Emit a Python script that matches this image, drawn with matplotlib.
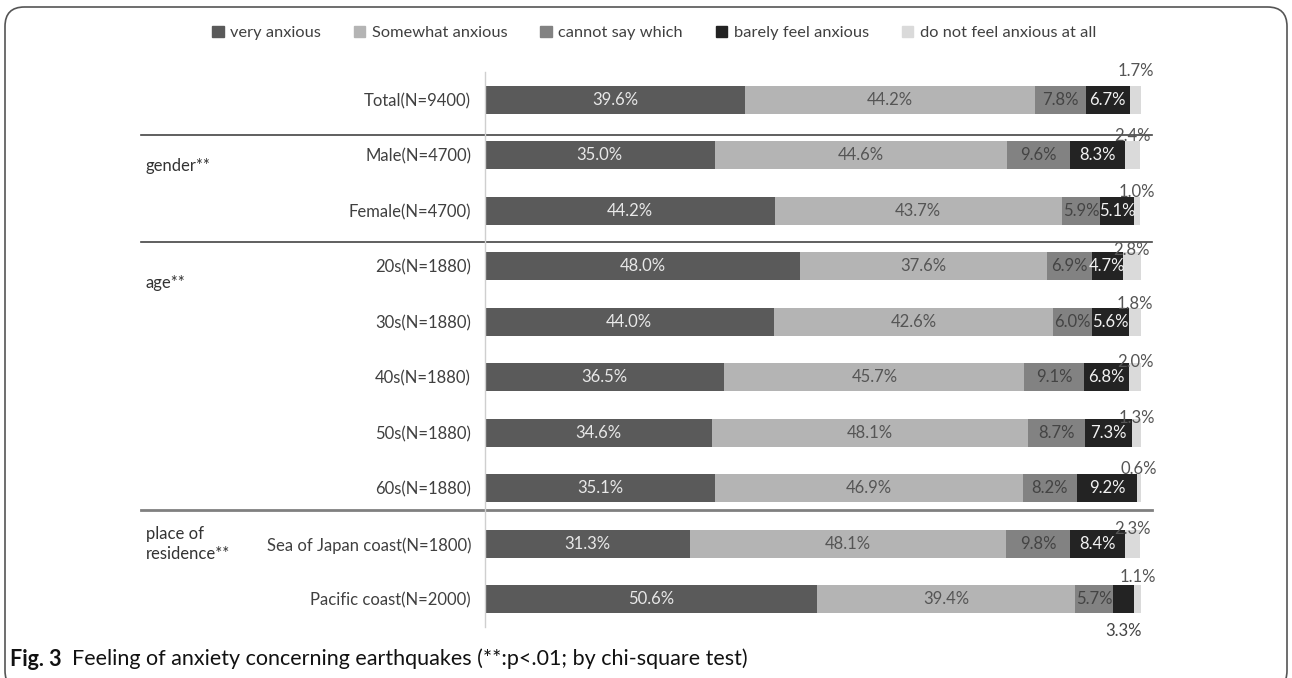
import matplotlib
matplotlib.use('Agg')
import matplotlib.pyplot as plt
from matplotlib.patches import Patch, FancyBboxPatch
import numpy as np

plt.rcParams['font.family'] = ['Lato', 'DejaVu Sans']

# 回答项目
answers = ['very anxious', 'Somewhat anxious', 'cannot say which',
           'barely feel anxious', 'do not feel anxious at all']
groups = ['Total(N=9400)', 'Male(N=4700)', 'Female(N=4700)',
          '20s(N=1880)', '30s(N=1880)', '40s(N=1880)', '50s(N=1880)', '60s(N=1880)',
          'Sea of Japan coast(N=1800)', 'Pacific coast(N=2000)']

very = [39.6, 35.0, 44.2, 48.0, 44.0, 36.5, 34.6, 35.1, 31.3, 50.6]
somewhat = [44.2, 44.6, 43.7, 37.6, 42.6, 45.7, 48.1, 46.9, 48.1, 39.4]
cannot_say = [7.8, 9.6, 5.9, 6.9, 6.0, 9.1, 8.7, 8.2, 9.8, 5.7]
barely = [6.7, 8.3, 5.1, 4.7, 5.6, 6.8, 7.3, 9.2, 8.4, 3.3]
not_at_all = [1.7, 2.4, 1.0, 2.8, 1.8, 2.0, 1.3, 0.6, 2.3, 1.1]

series = [very, somewhat, cannot_say, barely, not_at_all]
colors = ['#5a5a5a', '#b4b4b4', '#828282', '#232323', '#dadada']
txt_colors = ['#e8e8e8', '#555555', '#444444', '#f2f2f2', '#555555']

# 分组标题
group_titles = ['gender**', 'age**', 'place of\nresidence**']
group_rows = [1.2, 3.3, 8.0]
sep_rows = [0.63, 2.56, 7.40]

# 最后一项标签在条形上方的偏移(行单位)
top_offset = [0.27, 0.09, 0.09, 0.05, 0.07, 0.02, 0.02, 0.09, 0.02, 0.15]

W, H = 1292, 678
fig = plt.figure(figsize=(W / 100, H / 100), dpi=100)
ax = fig.add_axes([485 / W, 1 - 627 / H, 656 / W, 555 / H])

y = np.arange(len(groups))
left = np.zeros(len(groups))
for k, vals in enumerate(series):
    vals = np.array(vals)
    ax.barh(y, vals, left=left, height=0.5, color=colors[k], label=answers[k])
    for i in range(len(groups)):
        cx = left[i] + vals[i] / 2
        if k == 4:
            ax.text(cx, y[i] - 0.25 - top_offset[i], '%.1f%%' % vals[i], ha='center', va='center',
                    fontsize=12, color=txt_colors[k], clip_on=False)
        elif k == 3 and vals[i] < 4:
            ax.text(cx, y[i] + 0.58, '%.1f%%' % vals[i], ha='center', va='center',
                    fontsize=12, color='#444444', clip_on=False)
        else:
            ax.text(cx, y[i], '%.1f%%' % vals[i], ha='center', va='center',
                    fontsize=12, color=txt_colors[k])
    left += vals

ax.set_xlim(0, 100)
ax.set_ylim(len(groups) - 0.5, -0.5)
ax.set_yticks(y)
ax.set_yticklabels(groups, fontsize=12, color='#404040')
ax.tick_params(axis='y', length=0, pad=10)
ax.set_xticks([])
for s in ['top', 'right', 'bottom']:
    ax.spines[s].set_visible(False)
ax.spines['left'].set_color('#cfcfcf')
ax.spines['left'].set_linewidth(1)

# 分隔线
x0 = (141 - 485) / 6.56
x1 = (1152 - 485) / 6.56
for j, r in enumerate(sep_rows):
    if j < 2:
        ax.plot([x0, x1], [r, r], color='#444444', lw=1.2, clip_on=False)
    else:
        ax.plot([x0, x1], [r, r], color='#808080', lw=2, clip_on=False)

for t, r in zip(group_titles, group_rows):
    ax.text((146 - 485) / 6.56, r, t, ha='left', va='center', fontsize=12,
            color='#333333', clip_on=False, linespacing=1.3)

handles = [Patch(color=c) for c in colors]
fig.legend(handles, answers, loc='center', bbox_to_anchor=(654 / W, 1 - 33 / H), ncol=5,
           frameon=False, fontsize=11.8, handlelength=0.7, handleheight=0.7,
           handletextpad=0.4, columnspacing=2.0, labelcolor='#404040')

# 图注
fig.text(10 / W, 1 - 659 / H, 'Fig. 3', fontsize=15.5, fontweight='bold', va='center', color='#111111')
fig.text(72 / W, 1 - 659 / H, 'Feeling of anxiety concerning earthquakes (**:p<.01; by chi-square test)',
         fontsize=15.5, va='center', color='#111111')

# 外框
box = FancyBboxPatch((5 / W, 1 - 690 / H), 1282 / W, 683 / H,
                     boxstyle='round,pad=0,rounding_size=0.015', transform=fig.transFigure,
                     fill=False, edgecolor='#555555', lw=1.2, mutation_aspect=W / H)
fig.patches.append(box)

plt.savefig('out.png', dpi=100)
